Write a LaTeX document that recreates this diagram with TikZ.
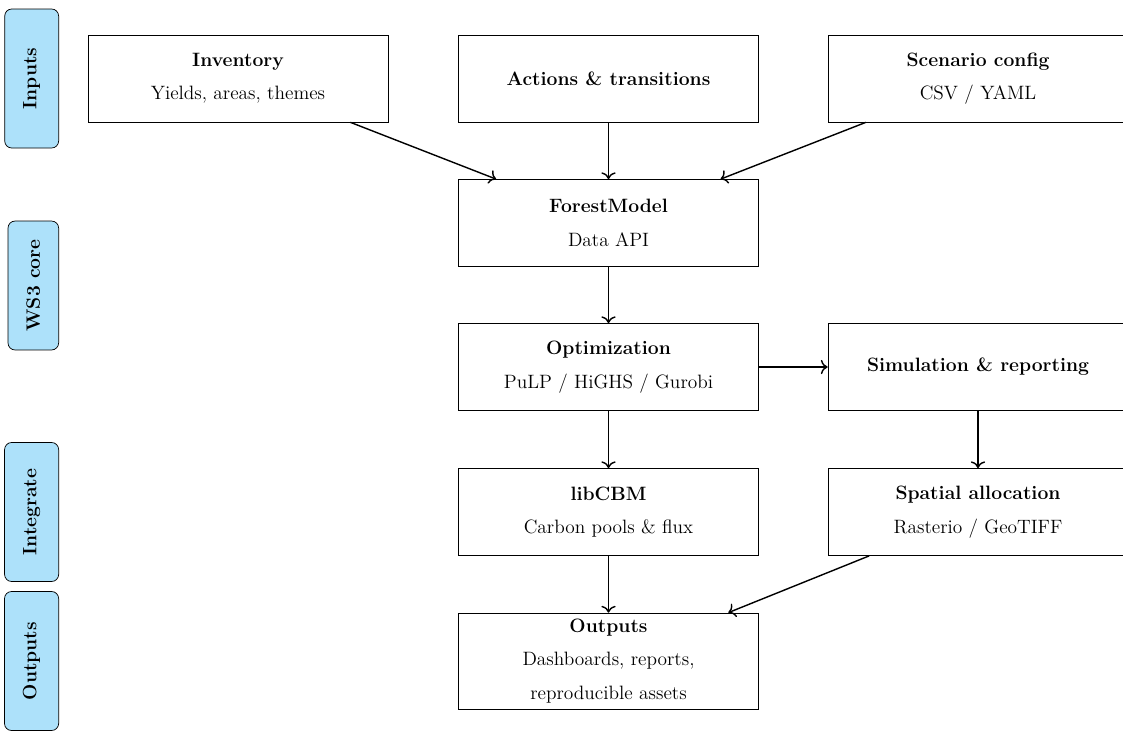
\documentclass[tikz,border=0pt]{standalone}
\usepackage{tikz}
\usetikzlibrary{arrows.meta}
\definecolor{laneblue}{RGB}{173,225,250}
\tikzset{
    % Define standard arrow tip
    >={To[scale=1.15]},
    % Define box style
    block/.style={
           draw,
           thin,
           minimum width=6cm,
           minimum height=1.74cm,
           align=center,
           font=\fontsize{11}{13}\selectfont,
           },
    lane/.style={
           draw,
           thin,
           fill=laneblue,
           rounded corners=4pt,
           rotate=90,
           anchor=south,
           inner sep=10.5pt,
           font=\fontsize{11}{13}\selectfont\bfseries,
           },
    pil/.style={
           ->,
           thick,
           },
}
\begin{document}
\begin{tikzpicture}
  	\useasboundingbox (0,0) rectangle (22.46,-14.6);
  	% lanes
  	\node (linputs) at (1.18,-1.57) [lane, minimum width=2.78cm] {Inputs};
  	\node (lcore) at (1.18,-5.71) [lane, minimum width=2.42cm] {WS3 core};
  	\node (linteg) at (1.18,-10.24) [lane, minimum width=2.78cm] {Integrate};
  	\node (loutputs) at (1.18,-13.22) [lane, minimum width=2.78cm] {Outputs};
  	% boxes
  	\node (inventory) at (4.76,-1.57) [block] {\textbf{Inventory}\\[6pt] Yields, areas, themes};
  	\node (actions) at (12.17,-1.57) [block] {\textbf{Actions \& transitions}};
  	\node (scenario) at (19.56,-1.57) [block] {\textbf{Scenario config}\\[6pt] CSV / YAML};
  	\node (forest) at (12.17,-4.46) [block] {\textbf{ForestModel}\\[6pt] Data API};
  	\node (optim) at (12.17,-7.34) [block] {\textbf{Optimization}\\[6pt] PuLP / HiGHS / Gurobi};
  	\node (sim) at (19.56,-7.34) [block] {\textbf{Simulation \& reporting}};
  	\node (libcbm) at (12.17,-10.24) [block] {\textbf{libCBM}\\[6pt] Carbon pools \& flux};
  	\node (spatial) at (19.56,-10.24) [block] {\textbf{Spatial allocation}\\[6pt] Rasterio / GeoTIFF};
  	\node (outputs) at (12.17,-13.22) [block, minimum height=1.92cm] {\textbf{Outputs}\\[6pt] Dashboards, reports,\\[6pt] reproducible assets};
  	% connectors
  	\draw [pil] (inventory) -- (forest);
  	\draw [pil] (actions) -- (forest);
  	\draw [pil] (scenario) -- (forest);
  	\draw [pil] (forest) -- (optim);
  	\draw [pil] (optim) -- (sim);
  	\draw [pil] (optim) -- (libcbm);
  	\draw [pil] (sim) -- (spatial);
  	\draw [pil] (libcbm) -- (outputs);
  	\draw [pil] (spatial) -- (outputs);
\end{tikzpicture}
\end{document}
